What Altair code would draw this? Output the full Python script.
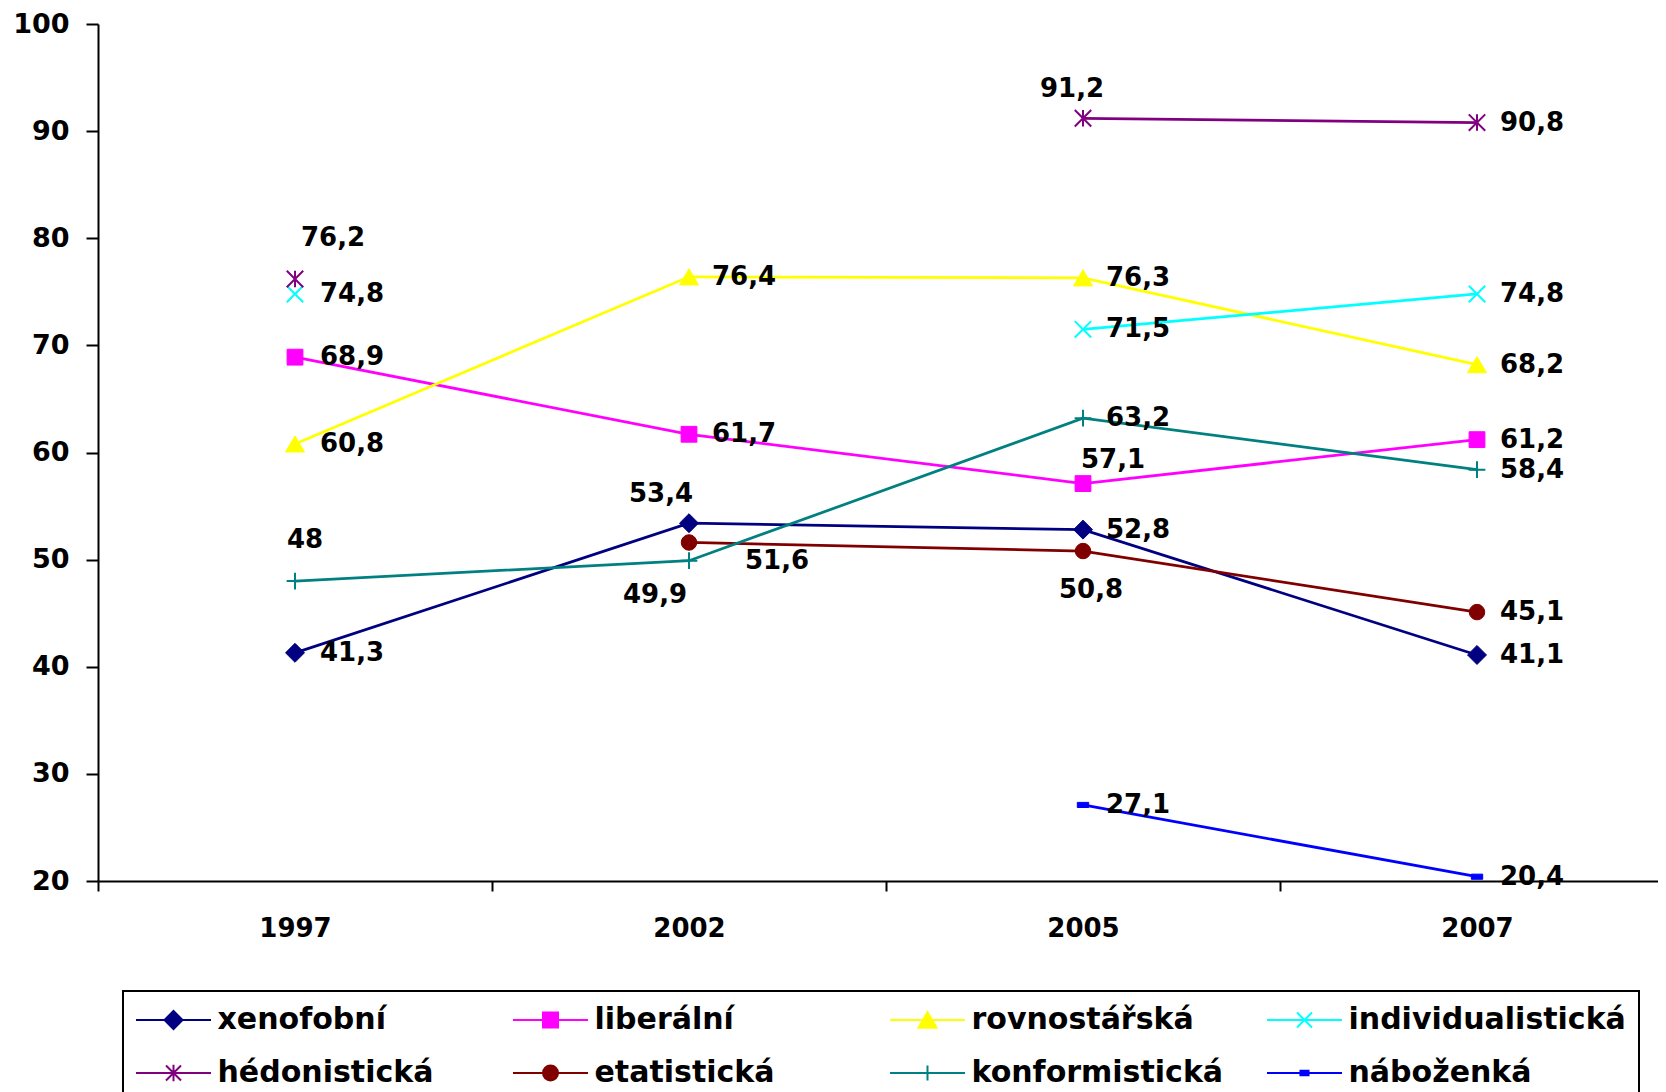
import altair as alt
import pandas as pd

years = ["1997", "2002", "2005", "2007"]
series = ["xenofobní", "liberální", "rovnostářská", "individualistická",
          "hédonistická", "etatistická", "konformistická", "náboženká"]
xenofobni = [41.3, 53.4, 52.8, 41.1]
liberalni = [68.9, 61.7, 57.1, 61.2]
rovnostarska = [60.8, 76.4, 76.3, 68.2]
individualisticka = [74.8, None, 71.5, 74.8]
hedonisticka = [76.2, None, 91.2, 90.8]
etatisticka = [None, 51.6, 50.8, 45.1]
konformisticka = [48, 49.9, 63.2, 58.4]
nabozenka = [None, None, 27.1, 20.4]
series_values = [xenofobni, liberalni, rovnostarska, individualisticka,
                 hedonisticka, etatisticka, konformisticka, nabozenka]
y_ticks = [20, 30, 40, 50, 60, 70, 80, 90, 100]

# styles
colors = ["#000080", "#FF00FF", "#FFFF00", "#00FFFF",
          "#800080", "#800000", "#008080", "#0000FF"]
markers = {
    "xenofobní": ("M0,-1L1,0L0,1L-1,0Z", 360, 1),
    "liberální": ("M-1,-1H1V1H-1Z", 250, 1),
    "rovnostářská": ("M0,-0.85L1,0.85H-1Z", 360, 1),
    "individualistická": ("M-1,-1L1,1M-1,1L1,-1", 270, 2),
    "hédonistická": ("M-1,-1L1,1M-1,1L1,-1M0,-1V1", 270, 2),
    "etatistická": ("circle", 240, 1),
    "konformistická": ("M-1,0H1M0,-1V1", 280, 2),
    "náboženká": ("M-1,-0.45H1V0.45H-1Z", 130, 1),
}
# legend symbols: one unit = 15 px, line spans 75 px
legend_paths = [
    "M-2.5,0H2.5M0,-0.6L0.6,0L0,0.6L-0.6,0Z",
    "M-2.5,0H2.5M-0.5,-0.5H0.5V0.5H-0.5Z",
    "M-2.5,0H2.5M0,-0.52L0.6,0.52H-0.6Z",
    "M-2.5,0H2.5M-0.5,-0.5L0.5,0.5M-0.5,0.5L0.5,-0.5",
    "M-2.5,0H2.5M-0.5,-0.5L0.5,0.5M-0.5,0.5L0.5,-0.5M0,-0.55V0.55",
    "M-2.5,0H2.5M-0.5,0A0.5,0.5,0,1,0,0.5,0A0.5,0.5,0,1,0,-0.5,0Z",
    "M-2.5,0H2.5M0,-0.5V0.5",
    "M-2.5,0H2.5M-0.27,-0.15H0.27V0.15H-0.27Z",
]
default_offset = (23, 0)
label_offsets = {
    ("hédonistická", "1997"): (6, -41),
    ("konformistická", "1997"): (-8, -41),
    ("individualistická", "1997"): (25, 0),
    ("liberální", "1997"): (25, 0),
    ("rovnostářská", "1997"): (25, 0),
    ("xenofobní", "1997"): (25, 0),
    ("xenofobní", "2002"): (-60, -29),
    ("etatistická", "2002"): (56, 19),
    ("konformistická", "2002"): (-66, 34),
    ("hédonistická", "2005"): (-43, -29),
    ("liberální", "2005"): (-2, -24),
    ("etatistická", "2005"): (-24, 39),
}

rows = []
for name, vals in zip(series, series_values):
    seg = 0
    prev_none = True
    for yr, v in zip(years, vals):
        if v is None:
            if not prev_none:
                seg += 1
            prev_none = True
            continue
        prev_none = False
        off = label_offsets.get((name, yr), default_offset)
        rows.append({"series": name, "year": yr, "value": v,
                     "seg": f"{name}-{seg}", "lg": f"{off[0]}_{off[1]}"})
df = pd.DataFrame(rows)

FONT = "DejaVu Sans"

X = alt.X("year:N", sort=years, bandPosition=0.5,
          scale=alt.Scale(type="band", domain=years, range=[0, 1576],
                          paddingInner=0, paddingOuter=0),
          axis=alt.Axis(title=None, labelAngle=0, tickBand="extent", tickSize=10,
                        labelPadding=24, labelFontSize=26, grid=False,
                        domainWidth=2, tickWidth=2))
Y = alt.Y("value:Q", scale=alt.Scale(domain=[20, 100], nice=False, zero=False),
          axis=alt.Axis(title=None, values=y_ticks, tickSize=12, labelPadding=17,
                        labelFontSize=27, grid=False, domainWidth=2, tickWidth=2))

color_scale = alt.Scale(domain=series, range=colors)

base = alt.Chart(df)

LEG = alt.Legend(orient="none", legendX=25, legendY=967, columns=4,
                 direction="horizontal", title=None,
                 labelFont=FONT, labelFontWeight="bold", labelFontSize=30,
                 labelColor="black", labelLimit=600, labelOffset=28,
                 symbolSize=900, symbolOffset=21.5, symbolStrokeWidth=2,
                 symbolOpacity=1, symbolFillColor="black", symbolStrokeColor="black",
                 rowPadding=22, columnPadding=14, gridAlign="all",
                 strokeColor="black", padding=13)

# legend carrier (tiny marks hidden beneath the real markers)
legend_layer = base.mark_point(filled=True, size=1, opacity=1).encode(
    x=X, y=Y,
    fill=alt.Fill("series:N", scale=alt.Scale(domain=series, range=colors), legend=LEG),
    stroke=alt.Stroke("series:N", scale=alt.Scale(domain=series, range=colors), legend=LEG),
    shape=alt.Shape("series:N", scale=alt.Scale(domain=series, range=legend_paths), legend=LEG),
)

lines = base.mark_line(strokeWidth=2.75).encode(
    x=X, y=Y,
    color=alt.Color("series:N", scale=color_scale, legend=None),
    detail="seg:N",
)

layers = [legend_layer, lines]
for name, col in zip(series, colors):
    shape, size, sw = markers[name]
    layers.append(
        base.transform_filter(alt.datum.series == name)
        .mark_point(shape=shape, size=size, filled=True, fill=col, stroke=col,
                    strokeWidth=sw, opacity=1)
        .encode(x=X, y=Y)
    )

groups = sorted(set(df["lg"]))
for g in groups:
    dx, dy = (int(t) for t in g.split("_"))
    layers.append(
        base.transform_filter(alt.datum.lg == g)
        .transform_calculate(label="replace(toString(datum.value), '.', ',')")
        .mark_text(align="left", baseline="middle", dx=dx, dy=dy, font=FONT,
                   fontWeight="bold", fontSize=26, color="black")
        .encode(x=X, y=Y, text="label:N")
    )

chart = alt.layer(*layers).properties(
    width=1560, height=857,
    padding={"left": 90, "top": 16, "right": 0, "bottom": 227},
    autosize=alt.AutoSizeParams(type="none"),
    background="white",
).configure_view(stroke=None).configure_axis(
    labelFont=FONT, labelFontWeight="bold", labelColor="black",
    domainColor="black", tickColor="black",
).configure_legend(strokeWidth=2)

chart.save("out.html", embed_options={"renderer": "svg", "actions": False})
